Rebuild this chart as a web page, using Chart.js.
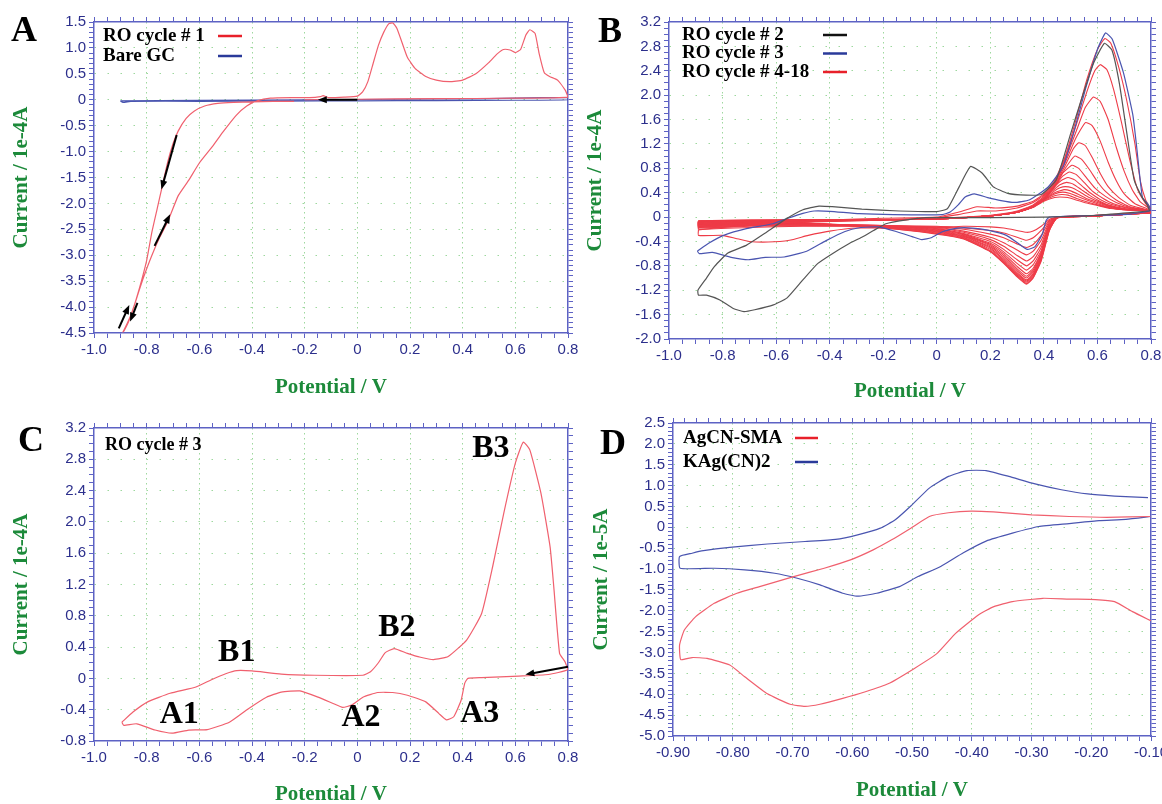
<!DOCTYPE html>
<html>
<head>
<meta charset="utf-8">
<script src="https://cdn.jsdelivr.net/npm/chart.js@4.4.1/dist/chart.umd.min.js"></script>
<style>
  body { margin: 0; background: #fff; width: 1162px; height: 804px; position: relative; overflow: hidden; }
  canvas { position: absolute; }
</style>
</head>
<body>
<canvas id="chartA" width="581" height="402" style="left:0;top:0"></canvas>
<canvas id="chartB" width="581" height="404" style="left:581px;top:0"></canvas>
<canvas id="chartC" width="581" height="404" style="left:0;top:400px"></canvas>
<canvas id="chartD" width="581" height="404" style="left:581px;top:400px"></canvas>
<script>
// ---- axis ranges: [min, max, major step, minor step, decimals]
const xAxisABC = [-1.0, 0.8, 0.2, 0.05, 1];
const yAxisA = [-4.5, 1.5, 0.5, 0.1, 1];
const yAxisB = [-2.0, 3.2, 0.4, 0.1, 1];
const yAxisC = [-0.8, 3.2, 0.4, 0.1, 1];
const xAxisD = [-0.9, -0.1, 0.1, 0.02, 2];
const yAxisD = [-5.0, 2.5, 0.5, 0.1, 1];

// ---- legend / label text
const legendA = ['RO cycle # 1', 'Bare GC'];
const legendB = ['RO cycle # 2', 'RO cycle # 3', 'RO cycle # 4-18'];
const legendC = ['RO cycle # 3'];
const legendD = ['AgCN-SMA', 'KAg(CN)2'];
const peakNames = ['B3', 'B2', 'B1', 'A1', 'A2', 'A3'];
const peakSpots = [[0.507, 2.94], [0.15, 0.65], [-0.458, 0.33], [-0.676, -0.47], [0.014, -0.5], [0.465, -0.45]];

// ---- panel A: potential (V), current (1e-4 A)
const roCycle1 = [[-0.24,-0.03],[-0.32,-0.03],[-0.4,-0.04],[-0.47,-0.05],[-0.53,-0.07],[-0.58,-0.12],[-0.62,-0.22],[-0.65,-0.36],[-0.68,-0.6],[-0.7,-0.85],[-0.72,-1.2],[-0.74,-1.65],[-0.76,-2.1],[-0.78,-2.55],[-0.8,-3.1],[-0.82,-3.5],[-0.84,-3.85],[-0.86,-4.15],[-0.88,-4.38],[-0.89,-4.48],[-0.885,-4.45],[-0.87,-4.3],[-0.85,-4.02],[-0.83,-3.7],[-0.81,-3.4],[-0.78,-3.0],[-0.75,-2.65],[-0.72,-2.35],[-0.68,-1.85],[-0.64,-1.55],[-0.6,-1.22],[-0.55,-0.9],[-0.51,-0.62],[-0.46,-0.3],[-0.42,-0.12],[-0.38,-0.02],[-0.33,0.03],[-0.25,0.04],[-0.18,0.04],[-0.14,0.06],[-0.13,0.08],[-0.11,0.04],[-0.05,0.05],[0.0,0.07],[0.02,0.15],[0.04,0.35],[0.06,0.7],[0.08,1.05],[0.1,1.3],[0.12,1.47],[0.135,1.48],[0.15,1.38],[0.17,1.1],[0.19,0.82],[0.22,0.6],[0.26,0.45],[0.3,0.38],[0.35,0.35],[0.4,0.38],[0.45,0.5],[0.5,0.72],[0.53,0.88],[0.555,0.97],[0.58,0.96],[0.6,0.91],[0.62,0.97],[0.64,1.25],[0.655,1.35],[0.675,1.28],[0.69,0.9],[0.71,0.52],[0.73,0.45],[0.76,0.38],[0.79,0.18],[0.8,0.05],[0.6,0.03],[0.3,0.02],[0.0,0.01],[-0.2,0.0]];
const bareGC = [[-0.9,-0.02],[-0.89,-0.05],[-0.86,-0.03],[-0.6,-0.03],[-0.3,-0.025],[0.0,-0.02],[0.3,-0.015],[0.6,-0.01],[0.8,0.0],[0.8,0.04],[0.7,0.04],[0.5,0.02],[0.2,0.01],[-0.2,0.0],[-0.6,-0.01],[-0.9,-0.02]];
const arrowsA = [[0.0,0.0,-0.15,0.0],[-0.686,-0.68,-0.744,-1.73],[-0.77,-2.82,-0.711,-2.21],[-0.906,-4.41,-0.866,-3.96],[-0.835,-3.92,-0.863,-4.28]];

// ---- panel B / C
const roCycle2 = [[0.795,0.1],[0.6,0.03],[0.4,0.0],[0.2,-0.01],[0.0,-0.01],[-0.04,-0.01],[-0.12,-0.05],[-0.19,-0.11],[-0.236,-0.22],[-0.28,-0.33],[-0.33,-0.44],[-0.39,-0.6],[-0.444,-0.76],[-0.5,-1.03],[-0.56,-1.33],[-0.61,-1.44],[-0.68,-1.52],[-0.72,-1.55],[-0.76,-1.5],[-0.81,-1.36],[-0.86,-1.28],[-0.89,-1.28],[-0.892,-1.2],[-0.86,-1.0],[-0.83,-0.81],[-0.78,-0.59],[-0.71,-0.46],[-0.64,-0.26],[-0.57,-0.05],[-0.5,0.12],[-0.44,0.18],[-0.39,0.17],[-0.28,0.13],[-0.14,0.1],[0.0,0.09],[0.04,0.14],[0.084,0.5],[0.126,0.83],[0.17,0.72],[0.21,0.5],[0.265,0.39],[0.334,0.36],[0.39,0.37],[0.446,0.61],[0.5,1.37],[0.543,1.97],[0.585,2.52],[0.626,2.85],[0.654,2.74],[0.682,2.19],[0.71,1.37],[0.737,0.61],[0.765,0.34],[0.786,0.2],[0.795,0.1]];
const roCycle3 = [[-0.894,-0.56],[-0.852,-0.43],[-0.796,-0.3],[-0.711,-0.19],[-0.613,-0.11],[-0.556,-0.02],[-0.5,0.06],[-0.458,0.1],[-0.4,0.095],[-0.289,0.055],[-0.162,0.04],[0.021,0.04],[0.05,0.085],[0.08,0.2],[0.106,0.33],[0.14,0.38],[0.19,0.32],[0.24,0.27],[0.289,0.24],[0.345,0.28],[0.415,0.49],[0.472,0.83],[0.514,1.43],[0.556,2.11],[0.6,2.75],[0.63,3.02],[0.655,2.92],[0.697,2.37],[0.732,1.68],[0.746,1.17],[0.768,0.32],[0.789,0.21],[0.798,0.11],[0.725,0.05],[0.613,0.03],[0.472,0.01],[0.42,0.0],[0.408,-0.06],[0.394,-0.28],[0.366,-0.49],[0.338,-0.53],[0.31,-0.45],[0.26,-0.3],[0.19,-0.215],[0.134,-0.18],[0.077,-0.18],[0.021,-0.24],[-0.021,-0.34],[-0.056,-0.37],[-0.092,-0.32],[-0.149,-0.24],[-0.218,-0.16],[-0.289,-0.175],[-0.345,-0.24],[-0.415,-0.39],[-0.486,-0.56],[-0.57,-0.655],[-0.64,-0.66],[-0.704,-0.7],[-0.768,-0.66],[-0.838,-0.58],[-0.887,-0.6],[-0.894,-0.56]];

const roCycle4 = [[-0.89,-0.21],[-0.78,-0.16],[-0.6,-0.1],[-0.4,-0.05],[-0.2,-0.02],[0.0,0.0],[0.08,0.08],[0.15,0.17],[0.22,0.15],[0.3,0.18],[0.36,0.26],[0.4,0.38],[0.44,0.6],[0.48,1.0],[0.52,1.6],[0.56,2.25],[0.6,2.75],[0.628,2.93],[0.65,2.85],[0.68,2.45],[0.71,1.9],[0.74,1.2],[0.76,0.6],[0.78,0.28],[0.8,0.12],[0.8,0.08],[0.6,0.03],[0.45,0.0],[0.42,-0.04],[0.39,-0.15],[0.36,-0.23],[0.335,-0.25],[0.3,-0.22],[0.25,-0.18],[0.2,-0.16],[0.1,-0.15],[0.0,-0.17],[-0.15,-0.18],[-0.3,-0.18],[-0.4,-0.23],[-0.48,-0.3],[-0.55,-0.38],[-0.63,-0.41],[-0.7,-0.4],[-0.75,-0.35],[-0.8,-0.3],[-0.89,-0.3],[-0.89,-0.21]];
const roCycle5 = [[-0.89,-0.16],[-0.7,-0.12],[-0.5,-0.08],[-0.3,-0.05],[-0.1,-0.03],[0.0,-0.01],[0.08,0.04],[0.15,0.1],[0.22,0.1],[0.3,0.15],[0.36,0.24],[0.4,0.36],[0.44,0.58],[0.48,0.98],[0.52,1.5],[0.56,2.05],[0.59,2.4],[0.61,2.5],[0.635,2.42],[0.66,2.1],[0.69,1.55],[0.72,0.95],[0.75,0.45],[0.78,0.22],[0.8,0.12],[0.8,0.08],[0.6,0.03],[0.45,0.0],[0.42,-0.06],[0.39,-0.22],[0.36,-0.34],[0.335,-0.38],[0.3,-0.33],[0.25,-0.26],[0.2,-0.22],[0.1,-0.18],[0.0,-0.15],[-0.2,-0.15],[-0.5,-0.15],[-0.7,-0.17],[-0.89,-0.2],[-0.89,-0.16]];
const roCycle6 = [[-0.89,-0.14],[-0.7,-0.11],[-0.5,-0.08],[-0.3,-0.06],[-0.1,-0.04],[0.0,-0.02],[0.1,0.0],[0.2,0.03],[0.3,0.1],[0.36,0.2],[0.4,0.34],[0.44,0.56],[0.48,0.95],[0.52,1.4],[0.555,1.8],[0.585,1.97],[0.61,1.9],[0.64,1.6],[0.67,1.15],[0.7,0.75],[0.73,0.45],[0.76,0.25],[0.8,0.12],[0.8,0.08],[0.6,0.03],[0.45,0.0],[0.42,-0.08],[0.39,-0.3],[0.36,-0.45],[0.335,-0.5],[0.3,-0.44],[0.25,-0.34],[0.2,-0.28],[0.1,-0.2],[0.0,-0.16],[-0.2,-0.15],[-0.5,-0.14],[-0.7,-0.15],[-0.89,-0.18],[-0.89,-0.14]];
const roCycle7 = [[-0.89,-0.13],[-0.7,-0.1],[-0.5,-0.08],[-0.3,-0.06],[-0.1,-0.04],[0.0,-0.03],[0.1,-0.01],[0.2,0.02],[0.3,0.09],[0.36,0.19],[0.4,0.32],[0.44,0.54],[0.48,0.9],[0.52,1.3],[0.555,1.55],[0.58,1.5],[0.61,1.25],[0.64,0.9],[0.67,0.6],[0.7,0.38],[0.74,0.22],[0.8,0.11],[0.8,0.08],[0.6,0.02],[0.45,0.0],[0.42,-0.1],[0.39,-0.38],[0.36,-0.56],[0.335,-0.62],[0.3,-0.54],[0.25,-0.42],[0.2,-0.33],[0.1,-0.23],[0.0,-0.17],[-0.2,-0.14],[-0.5,-0.13],[-0.7,-0.14],[-0.89,-0.17],[-0.89,-0.13]];
const roCycle8 = [[-0.89,-0.12],[-0.7,-0.1],[-0.5,-0.07],[-0.3,-0.05],[-0.1,-0.04],[0.0,-0.03],[0.1,-0.01],[0.2,0.02],[0.3,0.08],[0.36,0.18],[0.4,0.31],[0.44,0.52],[0.48,0.85],[0.51,1.12],[0.53,1.22],[0.555,1.17],[0.58,0.98],[0.61,0.72],[0.64,0.5],[0.68,0.32],[0.72,0.2],[0.8,0.1],[0.8,0.07],[0.6,0.02],[0.45,0.0],[0.42,-0.12],[0.39,-0.45],[0.36,-0.65],[0.335,-0.72],[0.3,-0.63],[0.25,-0.48],[0.2,-0.37],[0.1,-0.25],[0.0,-0.18],[-0.2,-0.14],[-0.5,-0.12],[-0.7,-0.13],[-0.89,-0.16],[-0.89,-0.12]];
const roCycle9 = [[-0.89,-0.11],[-0.7,-0.09],[-0.5,-0.07],[-0.3,-0.05],[-0.1,-0.04],[0.0,-0.03],[0.1,-0.01],[0.2,0.02],[0.3,0.08],[0.36,0.17],[0.4,0.3],[0.44,0.5],[0.48,0.8],[0.515,1.0],[0.54,0.95],[0.57,0.78],[0.6,0.58],[0.63,0.42],[0.67,0.28],[0.72,0.17],[0.8,0.1],[0.8,0.07],[0.6,0.02],[0.45,-0.01],[0.42,-0.14],[0.39,-0.5],[0.36,-0.72],[0.335,-0.8],[0.3,-0.7],[0.25,-0.53],[0.2,-0.4],[0.1,-0.27],[0.0,-0.19],[-0.2,-0.14],[-0.5,-0.12],[-0.7,-0.13],[-0.89,-0.15],[-0.89,-0.11]];
const roCycle10 = [[-0.89,-0.1],[-0.7,-0.08],[-0.5,-0.06],[-0.3,-0.05],[-0.1,-0.04],[0.0,-0.03],[0.1,-0.01],[0.2,0.02],[0.3,0.08],[0.36,0.17],[0.4,0.3],[0.44,0.5],[0.47,0.72],[0.505,0.85],[0.53,0.8],[0.56,0.64],[0.59,0.48],[0.63,0.34],[0.67,0.24],[0.72,0.16],[0.8,0.1],[0.8,0.07],[0.6,0.02],[0.45,-0.01],[0.42,-0.15],[0.39,-0.55],[0.36,-0.78],[0.335,-0.87],[0.3,-0.76],[0.25,-0.57],[0.2,-0.43],[0.1,-0.28],[0.0,-0.2],[-0.2,-0.14],[-0.5,-0.12],[-0.7,-0.12],[-0.89,-0.15],[-0.89,-0.1]];
const roCycle11 = [[-0.89,-0.1],[-0.7,-0.08],[-0.5,-0.06],[-0.3,-0.05],[-0.1,-0.04],[0.0,-0.03],[0.1,-0.01],[0.2,0.02],[0.3,0.08],[0.36,0.17],[0.4,0.3],[0.44,0.5],[0.47,0.67],[0.495,0.74],[0.52,0.7],[0.55,0.57],[0.58,0.43],[0.62,0.31],[0.66,0.22],[0.72,0.15],[0.8,0.1],[0.8,0.07],[0.6,0.02],[0.45,-0.01],[0.42,-0.16],[0.39,-0.58],[0.36,-0.84],[0.335,-0.93],[0.3,-0.81],[0.25,-0.6],[0.2,-0.45],[0.1,-0.29],[0.0,-0.21],[-0.2,-0.15],[-0.5,-0.12],[-0.7,-0.12],[-0.89,-0.14],[-0.89,-0.1]];
const roCycle12 = [[-0.89,-0.09],[-0.7,-0.07],[-0.5,-0.06],[-0.3,-0.05],[-0.1,-0.04],[0.0,-0.03],[0.1,-0.01],[0.2,0.02],[0.3,0.08],[0.36,0.17],[0.4,0.3],[0.44,0.5],[0.465,0.6],[0.49,0.65],[0.515,0.61],[0.545,0.5],[0.575,0.39],[0.61,0.29],[0.65,0.21],[0.72,0.14],[0.8,0.1],[0.8,0.07],[0.6,0.02],[0.45,-0.01],[0.42,-0.17],[0.39,-0.6],[0.36,-0.87],[0.335,-0.97],[0.3,-0.85],[0.25,-0.63],[0.2,-0.47],[0.1,-0.3],[0.0,-0.22],[-0.2,-0.15],[-0.5,-0.11],[-0.7,-0.11],[-0.89,-0.13],[-0.89,-0.09]];
const roCycle13 = [[-0.89,-0.08],[-0.7,-0.07],[-0.5,-0.05],[-0.3,-0.05],[-0.1,-0.04],[0.0,-0.03],[0.1,-0.01],[0.2,0.02],[0.3,0.08],[0.36,0.17],[0.4,0.3],[0.44,0.46],[0.46,0.53],[0.485,0.57],[0.51,0.54],[0.54,0.45],[0.57,0.36],[0.6,0.28],[0.64,0.2],[0.7,0.14],[0.8,0.1],[0.8,0.07],[0.6,0.02],[0.45,-0.01],[0.42,-0.18],[0.39,-0.62],[0.36,-0.9],[0.335,-1.0],[0.3,-0.88],[0.25,-0.66],[0.2,-0.49],[0.1,-0.31],[0.0,-0.23],[-0.2,-0.16],[-0.5,-0.11],[-0.7,-0.11],[-0.89,-0.13],[-0.89,-0.08]];
const roCycle14 = [[-0.89,-0.08],[-0.7,-0.06],[-0.5,-0.05],[-0.3,-0.04],[-0.1,-0.04],[0.0,-0.03],[0.1,-0.01],[0.2,0.02],[0.3,0.08],[0.36,0.17],[0.4,0.29],[0.44,0.43],[0.46,0.48],[0.48,0.5],[0.505,0.48],[0.535,0.41],[0.565,0.33],[0.6,0.26],[0.64,0.19],[0.7,0.13],[0.8,0.1],[0.8,0.07],[0.6,0.02],[0.45,-0.01],[0.42,-0.19],[0.39,-0.64],[0.36,-0.93],[0.335,-1.03],[0.3,-0.91],[0.25,-0.69],[0.2,-0.51],[0.1,-0.32],[0.0,-0.24],[-0.2,-0.16],[-0.5,-0.1],[-0.7,-0.1],[-0.89,-0.12],[-0.89,-0.08]];
const roCycle15 = [[-0.89,-0.07],[-0.7,-0.06],[-0.5,-0.05],[-0.3,-0.04],[-0.1,-0.04],[0.0,-0.03],[0.1,-0.01],[0.2,0.02],[0.3,0.08],[0.36,0.17],[0.4,0.28],[0.44,0.4],[0.475,0.45],[0.5,0.43],[0.53,0.37],[0.56,0.3],[0.6,0.24],[0.64,0.18],[0.7,0.13],[0.8,0.1],[0.8,0.07],[0.6,0.02],[0.45,-0.01],[0.42,-0.2],[0.39,-0.66],[0.36,-0.95],[0.335,-1.05],[0.3,-0.93],[0.25,-0.71],[0.2,-0.53],[0.1,-0.33],[0.0,-0.25],[-0.2,-0.17],[-0.5,-0.1],[-0.7,-0.1],[-0.89,-0.12],[-0.89,-0.07]];
const roCycle16 = [[-0.89,-0.07],[-0.7,-0.06],[-0.5,-0.05],[-0.3,-0.04],[-0.1,-0.04],[0.0,-0.03],[0.1,-0.01],[0.2,0.02],[0.3,0.08],[0.36,0.17],[0.4,0.28],[0.44,0.38],[0.47,0.41],[0.495,0.39],[0.525,0.34],[0.56,0.28],[0.6,0.22],[0.64,0.17],[0.7,0.12],[0.8,0.1],[0.8,0.07],[0.6,0.02],[0.45,-0.01],[0.42,-0.21],[0.39,-0.68],[0.36,-0.97],[0.335,-1.07],[0.3,-0.95],[0.25,-0.73],[0.2,-0.55],[0.1,-0.34],[0.0,-0.26],[-0.2,-0.17],[-0.5,-0.1],[-0.7,-0.09],[-0.89,-0.11],[-0.89,-0.07]];
const roCycle17 = [[-0.89,-0.06],[-0.7,-0.05],[-0.5,-0.05],[-0.3,-0.04],[-0.1,-0.04],[0.0,-0.03],[0.1,-0.01],[0.2,0.02],[0.3,0.08],[0.36,0.16],[0.4,0.27],[0.44,0.35],[0.465,0.37],[0.49,0.36],[0.52,0.31],[0.56,0.25],[0.6,0.2],[0.65,0.15],[0.7,0.12],[0.8,0.1],[0.8,0.07],[0.6,0.02],[0.45,-0.01],[0.42,-0.22],[0.39,-0.7],[0.36,-0.99],[0.335,-1.09],[0.3,-0.97],[0.25,-0.75],[0.2,-0.56],[0.1,-0.35],[0.0,-0.27],[-0.2,-0.18],[-0.5,-0.1],[-0.7,-0.09],[-0.89,-0.1],[-0.89,-0.06]];
const roCycle18 = [[-0.89,-0.06],[-0.7,-0.05],[-0.5,-0.04],[-0.3,-0.04],[-0.1,-0.04],[0.0,-0.03],[0.1,-0.01],[0.2,0.02],[0.3,0.08],[0.36,0.16],[0.4,0.26],[0.44,0.32],[0.46,0.33],[0.49,0.32],[0.52,0.28],[0.56,0.23],[0.6,0.19],[0.65,0.14],[0.7,0.12],[0.8,0.1],[0.8,0.07],[0.6,0.02],[0.45,-0.01],[0.42,-0.23],[0.39,-0.72],[0.36,-1.0],[0.335,-1.1],[0.3,-0.98],[0.25,-0.76],[0.2,-0.57],[0.1,-0.36],[0.0,-0.28],[-0.2,-0.18],[-0.5,-0.1],[-0.7,-0.09],[-0.89,-0.1],[-0.89,-0.06]];
const laterCycles = [roCycle4, roCycle5, roCycle6, roCycle7, roCycle8, roCycle9, roCycle10, roCycle11, roCycle12, roCycle13, roCycle14, roCycle15, roCycle16, roCycle17, roCycle18];
const arrowsC = [[0.8,0.15,0.638,0.05]];

// ---- panel D: potential (V), current (1e-5 A)
const agcnSma = [[-0.1,-2.24],[-0.131,-2.02],[-0.161,-1.78],[-0.193,-1.73],[-0.237,-1.72],[-0.281,-1.7],[-0.332,-1.78],[-0.363,-1.9],[-0.389,-2.1],[-0.427,-2.54],[-0.458,-3.02],[-0.496,-3.38],[-0.54,-3.75],[-0.578,-3.94],[-0.616,-4.1],[-0.654,-4.24],[-0.679,-4.29],[-0.704,-4.24],[-0.742,-3.99],[-0.78,-3.58],[-0.805,-3.3],[-0.843,-3.14],[-0.868,-3.12],[-0.887,-3.17],[-0.889,-2.82],[-0.881,-2.46],[-0.862,-2.14],[-0.831,-1.82],[-0.793,-1.58],[-0.755,-1.42],[-0.698,-1.18],[-0.647,-0.98],[-0.603,-0.78],[-0.565,-0.54],[-0.534,-0.3],[-0.502,-0.02],[-0.471,0.26],[-0.439,0.35],[-0.401,0.39],[-0.364,0.37],[-0.3,0.3],[-0.237,0.26],[-0.174,0.24],[-0.101,0.26]];
const kagCn2 = [[-0.101,0.26],[-0.142,0.19],[-0.187,0.16],[-0.237,0.09],[-0.288,0.02],[-0.332,-0.14],[-0.376,-0.33],[-0.414,-0.61],[-0.452,-0.94],[-0.49,-1.18],[-0.521,-1.42],[-0.559,-1.58],[-0.591,-1.65],[-0.616,-1.58],[-0.654,-1.38],[-0.692,-1.22],[-0.73,-1.1],[-0.78,-1.02],[-0.831,-0.98],[-0.888,-0.98],[-0.889,-0.7],[-0.868,-0.62],[-0.849,-0.56],[-0.805,-0.48],[-0.742,-0.4],[-0.679,-0.34],[-0.628,-0.29],[-0.591,-0.18],[-0.553,-0.02],[-0.528,0.18],[-0.502,0.51],[-0.471,0.94],[-0.439,1.22],[-0.408,1.36],[-0.376,1.36],[-0.338,1.22],[-0.294,1.04],[-0.25,0.9],[-0.206,0.8],[-0.161,0.75],[-0.105,0.71]];

// ---- styling
const axisBlue = '#5d62c4';
const labelBlue = '#2c2f8c';
const gridGreen = '#9ed89e';
const titleGreen = '#1c8a3a';
const serifFont = "'Liberation Serif', 'Times New Roman', serif";
const sansFont = "'Liberation Sans Narrow', 'Arial Narrow', 'Liberation Sans', Arial, sans-serif";

const pts = arr => arr.map(([x, y]) => ({ x, y }));
const isMajor = (v, major) => { const r = v / major; return Math.abs(r - Math.round(r)) < 1e-6; };

function line(data, color, width) {
  return { data: pts(data), borderColor: color, borderWidth: width || 1, pointRadius: 0, showLine: true, tension: 0.15, fill: false };
}

function buildScales(o) {
  const tickFont = { family: sansFont, size: 15 };
  const titleFont = { family: serifFont, size: 21, weight: 'bold' };
  const label = (major, digits) => v => isMajor(v, major) ? (Math.abs(v) < 1e-9 ? '0' : v.toFixed(digits)) : '';
  const gridCol = (ax) => c => {
    const v = c.tick ? c.tick.value : null;
    if (v === null || !isMajor(v, ax[2]) || Math.abs(v - ax[0]) < 1e-9 || Math.abs(v - ax[1]) < 1e-9) return 'rgba(0,0,0,0)';
    return gridGreen;
  };
  const base = (ax, pos) => ({
    type: 'linear', position: pos, min: ax[0], max: ax[1],
    ticks: { stepSize: ax[3], autoSkip: false, maxRotation: 0, minRotation: 0, padding: 3, color: labelBlue, font: tickFont },
    grid: { tickColor: axisBlue, tickLength: 5, lineWidth: 1 },
    border: { color: axisBlue, width: 1.5 }
  });
  const x = base(o.x, 'bottom');
  x.ticks.callback = label(o.x[2], o.x[4]);
  x.grid.color = gridCol(o.x);
  x.border.dash = [1.5, 3.5];
  x.title = { display: true, text: 'Potential / V', color: titleGreen, font: titleFont, padding: { top: 0, bottom: o.xPad } };
  x.afterFit = s => { s.height = o.bottom; s.paddingLeft = 0; s.paddingRight = 0; };
  const y = base(o.y, 'left');
  y.ticks.callback = label(o.y[2], o.y[4]);
  y.grid.color = gridCol(o.y);
  y.border.dash = [1.5, 11.5];
  y.title = { display: true, text: o.yTitle, color: titleGreen, font: titleFont, padding: { top: o.yPad, bottom: 0 } };
  y.afterFit = s => { s.width = o.left; s.paddingTop = 0; s.paddingBottom = 0; };
  const x2 = base(o.x, 'top');
  x2.ticks.callback = () => '';
  x2.grid.drawOnChartArea = false;
  x2.afterFit = s => { s.height = o.top; s.paddingLeft = 0; s.paddingRight = 0; };
  const y2 = base(o.y, 'right');
  y2.ticks.callback = () => '';
  y2.grid.drawOnChartArea = false;
  y2.afterFit = s => { s.width = o.right; s.paddingTop = 0; s.paddingBottom = 0; };
  return { x, y, x2, y2 };
}

function decor(spec) {
  return {
    id: 'decor',
    afterDatasetsDraw(chart) {
      const ctx = chart.ctx, sx = chart.scales.x, sy = chart.scales.y;
      ctx.save();
      ctx.textBaseline = 'middle';
      ctx.fillStyle = '#000';
      ctx.textAlign = 'center';
      ctx.font = `bold 36px ${serifFont}`;
      ctx.fillText(spec.letter[0], spec.letter[1], spec.letter[2]);
      if (spec.legend) {
        const L = spec.legend;
        ctx.font = `bold ${L.size}px ${serifFont}`;
        ctx.textAlign = 'left';
        L.names.forEach((name, i) => {
          const yy = L.y + i * L.gap;
          ctx.fillStyle = '#000';
          ctx.fillText(name, L.x, yy);
          if (L.colors) {
            ctx.strokeStyle = L.colors[i];
            ctx.lineWidth = 2.5;
            ctx.beginPath();
            ctx.moveTo(L.x1, yy);
            ctx.lineTo(L.x2, yy);
            ctx.stroke();
          }
        });
      }
      if (spec.notes) {
        ctx.font = `bold 32px ${serifFont}`;
        ctx.textAlign = 'center';
        ctx.fillStyle = '#000';
        spec.notes[0].forEach((t, i) => {
          const p = spec.notes[1][i];
          ctx.fillText(t, sx.getPixelForValue(p[0]), sy.getPixelForValue(p[1]));
        });
      }
      (spec.arrows || []).forEach(([x1, y1, x2, y2]) => {
        const ax = sx.getPixelForValue(x1), ay = sy.getPixelForValue(y1);
        const bx = sx.getPixelForValue(x2), by = sy.getPixelForValue(y2);
        const ang = Math.atan2(by - ay, bx - ax);
        ctx.strokeStyle = '#000';
        ctx.fillStyle = '#000';
        ctx.lineWidth = 2;
        ctx.beginPath();
        ctx.moveTo(ax, ay);
        ctx.lineTo(bx - 6 * Math.cos(ang), by - 6 * Math.sin(ang));
        ctx.stroke();
        ctx.beginPath();
        ctx.moveTo(bx, by);
        ctx.lineTo(bx - 9 * Math.cos(ang) + 3.5 * Math.sin(ang), by - 9 * Math.sin(ang) - 3.5 * Math.cos(ang));
        ctx.lineTo(bx - 9 * Math.cos(ang) - 3.5 * Math.sin(ang), by - 9 * Math.sin(ang) + 3.5 * Math.cos(ang));
        ctx.closePath();
        ctx.fill();
      });
      ctx.restore();
    }
  };
}

function makeChart(id, datasets, scaleOpts, spec) {
  new Chart(document.getElementById(id), {
    type: 'scatter',
    data: { datasets },
    options: {
      responsive: false,
      animation: false,
      layout: { padding: 0 },
      plugins: { legend: { display: false }, tooltip: { enabled: false } },
      scales: buildScales(scaleOpts)
    },
    plugins: [decor(spec)]
  });
}

// Panel A
makeChart('chartA',
  [line(roCycle1, '#f0606e', 1.2), line(bareGC, '#4a55b0', 1.2)],
  { x: xAxisABC, y: yAxisA, yTitle: 'Current / 1e-4A', left: 94, right: 13, top: 22, bottom: 69, xPad: 2, yPad: 9 },
  { letter: ['A', 24, 32], legend: { names: legendA, colors: ['#e8202a', '#2a3a9a'], size: 19, x: 103, y: 36, gap: 20, x1: 218, x2: 242 }, arrows: arrowsA });

// Panel B
makeChart('chartB',
  [line(roCycle2, '#555555', 1.2), line(roCycle3, '#4a55b0', 1.2)].concat(laterCycles.map(c => line(c, '#ee3b47', 1.1))),
  { x: xAxisABC, y: yAxisB, yTitle: 'Current / 1e-4A', left: 88, right: 11, top: 22, bottom: 65, xPad: 0, yPad: 2 },
  { letter: ['B', 29, 33], legend: { names: legendB, colors: ['#111111', '#2a3a9a', '#e8202a'], size: 19, x: 101, y: 35, gap: 18.5, x1: 242, x2: 266 } });

// Panel C
makeChart('chartC',
  [line(roCycle3, '#f0606e', 1.2)],
  { x: xAxisABC, y: yAxisC, yTitle: 'Current / 1e-4A', left: 94, right: 13, top: 28, bottom: 63, xPad: -3, yPad: 9 },
  { letter: ['C', 31, 42], legend: { names: legendC, size: 18, x: 105, y: 45, gap: 20 }, notes: [peakNames, peakSpots], arrows: arrowsC });

// Panel D
makeChart('chartD',
  [line(agcnSma, '#f0606e', 1.2), line(kagCn2, '#4a55b0', 1.2)],
  { x: xAxisD, y: yAxisD, yTitle: 'Current / 1e-5A', left: 92, right: 11, top: 23, bottom: 68, xPad: 1, yPad: 8 },
  { letter: ['D', 32, 45], legend: { names: legendD, colors: ['#e8202a', '#2a3a9a'], size: 19, x: 102, y: 38, gap: 24, x1: 214, x2: 237 } });
</script>
</body>
</html>
